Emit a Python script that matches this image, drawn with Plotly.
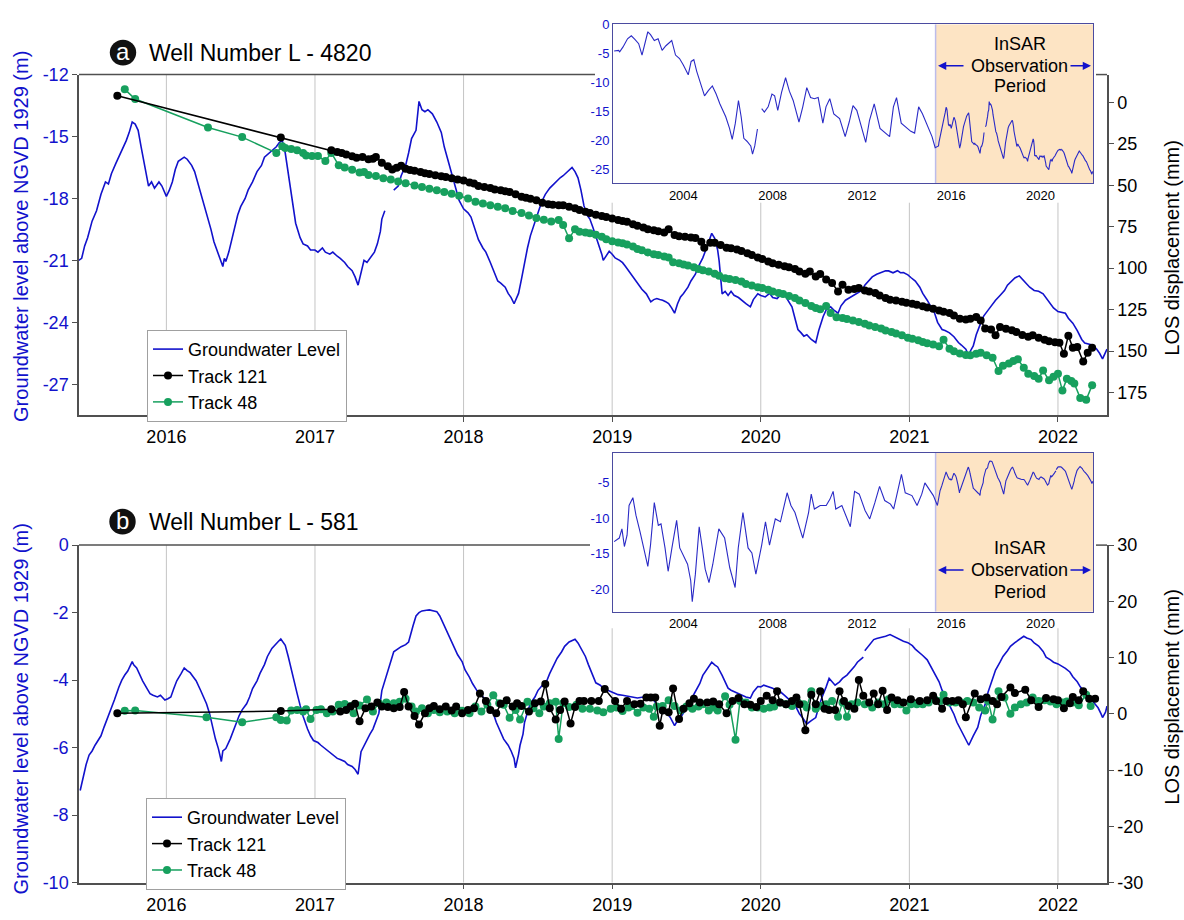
import plotly.graph_objects as go

FONT = "Liberation Sans, Arial, Helvetica, sans-serif"
W, H = 1184, 920

BLUE = "#1212CC"
INSET_BLUE = "#2A2AC6"
GREEN = "#17A05E"
BLACK = "#000000"
AXIS = "#505050"
GRID = "#C4C4C4"
INSET_FRAME = "#4B4BA0"
SHADE = "#FDE4C4"

# ---------------- tick values ----------------
YEAR_TICKS = [2016, 2017, 2018, 2019, 2020, 2021, 2022]
INSET_YEAR_TICKS = [2004, 2008, 2012, 2016, 2020]
GW_A_TICKS = [-12, -15, -18, -21, -24, -27]
LOS_A_TICKS = [0, 25, 50, 75, 100, 125, 150, 175]
GW_B_TICKS = [0, -2, -4, -6, -8, -10]
LOS_B_TICKS = [30, 20, 10, 0, -10, -20, -30]
INSET_A_TICKS = [0, -5, -10, -15, -20, -25]
INSET_B_TICKS = [-5, -10, -15, -20]
OBS_START = 2015.3

# ---------------- well L-4820: groundwater level (m) ----------------
GW_A = [
    (2015.41, -21.0), (2015.43, -20.9), (2015.45, -20.3), (2015.47, -19.9), (2015.50, -19.1),
    (2015.53, -18.6), (2015.56, -17.8), (2015.59, -17.2), (2015.61, -17.3), (2015.63, -16.8),
    (2015.66, -16.3), (2015.68, -16.0), (2015.70, -15.7), (2015.73, -15.2), (2015.75, -14.8),
    (2015.77, -14.3), (2015.79, -14.4), (2015.81, -14.7), (2015.83, -15.5), (2015.85, -16.3),
    (2015.88, -17.4), (2015.90, -17.2), (2015.92, -17.5), (2015.95, -17.2), (2015.97, -17.4),
    (2016.00, -17.9), (2016.02, -17.6), (2016.04, -17.2), (2016.06, -16.6), (2016.08, -16.2),
    (2016.10, -16.1), (2016.12, -16.0), (2016.14, -16.1), (2016.17, -16.4), (2016.19, -16.7),
    (2016.21, -17.2), (2016.24, -18.0), (2016.27, -18.8), (2016.30, -19.5), (2016.32, -20.1),
    (2016.34, -20.5), (2016.36, -20.8), (2016.38, -21.3), (2016.39, -20.9), (2016.40, -21.05),
    (2016.42, -20.6), (2016.43, -20.3), (2016.46, -19.5), (2016.48, -18.8), (2016.50, -18.4),
    (2016.53, -18.0), (2016.55, -17.6), (2016.58, -17.2), (2016.61, -16.7), (2016.64, -16.4),
    (2016.66, -16.0), (2016.69, -15.8), (2016.72, -15.6), (2016.74, -15.5), (2016.76, -15.3),
    (2016.78, -15.2), (2016.80, -15.8), (2016.82, -16.8), (2016.84, -17.7), (2016.86, -18.6),
    (2016.87, -19.2), (2016.90, -19.9), (2016.92, -20.2), (2016.95, -20.3), (2016.97, -20.5),
    (2017.00, -20.5), (2017.02, -20.6), (2017.05, -20.4), (2017.07, -20.6), (2017.10, -20.7),
    (2017.12, -20.6), (2017.15, -20.8), (2017.17, -20.9), (2017.20, -21.1), (2017.22, -21.3),
    (2017.25, -21.5), (2017.27, -21.8), (2017.29, -22.2), (2017.31, -21.6), (2017.33, -21.0),
    (2017.35, -21.1), (2017.38, -20.8), (2017.40, -20.6), (2017.42, -20.2), (2017.44, -19.6),
    (2017.45, -19.0), (2017.47, -18.6), (2017.50, None),
    (2017.53, -17.6), (2017.56, -17.4), (2017.58, -16.9), (2017.61, -16.4), (2017.63, -15.8),
    (2017.65, -15.1), (2017.68, -14.7), (2017.69, -14.0), (2017.70, -13.3), (2017.72, -13.7),
    (2017.74, -13.8), (2017.76, -13.7), (2017.79, -13.9), (2017.82, -14.3), (2017.85, -14.8),
    (2017.87, -15.5), (2017.90, -16.3), (2017.92, -16.9), (2017.95, -17.7), (2017.97, -18.1),
    (2018.00, -18.5), (2018.03, -18.7), (2018.05, -18.9), (2018.08, -19.5), (2018.10, -20.0),
    (2018.13, -20.4), (2018.15, -20.6), (2018.18, -21.1), (2018.20, -21.5), (2018.23, -22.0),
    (2018.25, -22.1), (2018.28, -22.3), (2018.30, -22.6), (2018.32, -22.8), (2018.34, -23.1),
    (2018.36, -22.8), (2018.37, -22.6), (2018.39, -21.9), (2018.41, -21.1), (2018.43, -20.4),
    (2018.45, -19.8), (2018.48, -19.1), (2018.51, -18.5), (2018.53, -18.1), (2018.55, -17.8),
    (2018.58, -17.5), (2018.62, -17.2), (2018.65, -17.0), (2018.67, -16.9), (2018.70, -16.7),
    (2018.73, -16.5), (2018.75, -16.7), (2018.77, -17.0), (2018.79, -17.6), (2018.81, -18.35),
    (2018.83, -18.8), (2018.85, -19.0), (2018.87, -19.4), (2018.89, -19.8), (2018.91, -20.3),
    (2018.93, -20.7), (2018.94, -21.0), (2018.96, -20.8), (2018.98, -20.56), (2019.00, -20.7),
    (2019.02, -20.88), (2019.05, -21.0), (2019.07, -21.11), (2019.09, -21.3), (2019.11, -21.51),
    (2019.14, -21.8), (2019.17, -22.14), (2019.20, -22.4), (2019.23, -22.62), (2019.26, -23.01),
    (2019.28, -22.9), (2019.30, -22.85), (2019.32, -22.9), (2019.34, -22.93), (2019.36, -23.0),
    (2019.38, -23.09), (2019.40, -23.3), (2019.42, -23.56), (2019.44, -23.1), (2019.46, -22.77),
    (2019.48, -22.6), (2019.51, -22.3), (2019.53, -22.0), (2019.56, -21.67), (2019.58, -21.3),
    (2019.61, -20.88), (2019.64, -20.3), (2019.67, -19.69), (2019.69, -19.93), (2019.71, -20.5),
    (2019.72, -21.04), (2019.74, -22.62), (2019.76, -22.5), (2019.78, -22.7), (2019.80, -22.5),
    (2019.82, -22.69), (2019.85, -22.8), (2019.87, -22.93), (2019.90, -23.1), (2019.93, -23.25),
    (2019.95, -22.9), (2019.98, -22.62), (2020.00, -22.7), (2020.03, -22.77), (2020.06, -22.6),
    (2020.08, -22.8), (2020.11, -22.85), (2020.13, -22.7), (2020.16, -22.62), (2020.18, -22.9),
    (2020.21, -23.25), (2020.23, -23.8), (2020.25, -24.35), (2020.27, -24.5), (2020.29, -24.67),
    (2020.31, -24.6), (2020.34, -24.83), (2020.37, -24.99), (2020.39, -24.4), (2020.42, -23.72),
    (2020.44, -23.4), (2020.47, -23.25), (2020.49, -23.4), (2020.52, -23.56), (2020.54, -23.2),
    (2020.57, -22.93), (2020.60, -22.8), (2020.63, -22.69), (2020.65, -22.6), (2020.68, -22.46),
    (2020.70, -22.2), (2020.73, -21.98), (2020.75, -21.8), (2020.78, -21.67), (2020.81, -21.6),
    (2020.84, -21.5), (2020.86, -21.51), (2020.89, -21.6), (2020.92, -21.5), (2020.94, -21.6),
    (2020.96, -21.59), (2020.99, -21.7), (2021.01, -21.83), (2021.04, -22.0), (2021.07, -22.3),
    (2021.09, -22.6), (2021.12, -22.93), (2021.14, -23.2), (2021.17, -23.56), (2021.19, -24.0),
    (2021.22, -24.35), (2021.24, -24.4), (2021.27, -24.51), (2021.30, -24.7), (2021.33, -24.98),
    (2021.35, -25.1), (2021.38, -25.3), (2021.40, -25.62), (2021.41, -25.4), (2021.43, -25.14),
    (2021.45, -24.6), (2021.48, -24.04), (2021.50, -23.7), (2021.53, -23.41), (2021.55, -23.2),
    (2021.58, -22.93), (2021.61, -22.7), (2021.64, -22.46), (2021.66, -22.2), (2021.69, -21.98),
    (2021.71, -21.85), (2021.74, -21.75), (2021.76, -21.9), (2021.79, -22.14), (2021.81, -22.3),
    (2021.84, -22.46), (2021.87, -22.5), (2021.90, -22.62), (2021.92, -22.8), (2021.95, -23.09),
    (2021.97, -23.3), (2022.00, -23.48), (2022.02, -23.5), (2022.05, -23.56), (2022.07, -23.8),
    (2022.10, -24.04), (2022.13, -24.4), (2022.16, -24.83), (2022.18, -25.0), (2022.21, -25.06),
    (2022.23, -25.1), (2022.26, -25.3), (2022.28, -25.5), (2022.30, -25.77), (2022.31, -25.6),
    (2022.33, -25.3),
]

# ---------------- well L-4820: InSAR LOS displacement (mm) ----------------
TR121_A = [
    (2015.67, -3.9), (2016.77, 21.2), (2017.11, 28.9), (2017.15, 30.0), (2017.18, 30.5),
    (2017.21, 31.5), (2017.25, 32.6), (2017.28, 33.4), (2017.32, 33.0), (2017.36, 34.4),
    (2017.39, 34.0), (2017.41, 33.0), (2017.45, 36.4), (2017.49, 38.5), (2017.52, 40.5),
    (2017.55, 39.5), (2017.58, 38.3), (2017.61, 40.0), (2017.64, 40.8), (2017.67, 41.3),
    (2017.71, 42.0), (2017.74, 42.8), (2017.77, 43.3), (2017.81, 44.0), (2017.85, 44.6),
    (2017.88, 45.0), (2017.92, 45.8), (2017.96, 46.5), (2018.00, 47.2), (2018.04, 48.3),
    (2018.07, 49.0), (2018.10, 50.5), (2018.14, 51.0), (2018.18, 51.7), (2018.21, 52.5),
    (2018.25, 53.0), (2018.28, 53.6), (2018.31, 54.1), (2018.35, 55.5), (2018.39, 57.0),
    (2018.42, 57.5), (2018.45, 58.2), (2018.49, 59.0), (2018.53, 60.5), (2018.57, 61.5),
    (2018.60, 61.8), (2018.64, 62.0), (2018.67, 62.0), (2018.71, 63.0), (2018.75, 63.9),
    (2018.78, 65.0), (2018.82, 66.0), (2018.85, 66.8), (2018.89, 67.8), (2018.93, 68.5),
    (2018.96, 69.2), (2019.00, 70.1), (2019.04, 71.0), (2019.07, 71.5), (2019.10, 72.0),
    (2019.14, 73.5), (2019.17, 74.4), (2019.21, 75.5), (2019.24, 76.5), (2019.28, 77.2),
    (2019.31, 77.8), (2019.35, 78.5), (2019.38, 76.5), (2019.42, 80.0), (2019.45, 80.8),
    (2019.49, 81.0), (2019.53, 81.5), (2019.56, 81.8), (2019.60, 84.0), (2019.62, 87.7),
    (2019.66, 84.7), (2019.69, 84.7), (2019.73, 86.0), (2019.77, 87.7), (2019.80, 88.0),
    (2019.84, 88.8), (2019.87, 89.6), (2019.91, 91.0), (2019.94, 92.0), (2019.98, 93.5),
    (2020.01, 94.5), (2020.05, 96.0), (2020.08, 97.0), (2020.12, 98.0), (2020.16, 98.8),
    (2020.19, 99.5), (2020.23, 100.5), (2020.26, 102.0), (2020.30, 103.3), (2020.33, 102.0),
    (2020.37, 105.0), (2020.40, 103.5), (2020.44, 106.8), (2020.48, 109.0), (2020.52, 114.0),
    (2020.55, 110.0), (2020.59, 113.0), (2020.63, 112.5), (2020.66, 112.0), (2020.70, 113.5),
    (2020.73, 114.0), (2020.77, 115.0), (2020.80, 116.5), (2020.84, 118.0), (2020.87, 119.0),
    (2020.91, 119.5), (2020.95, 120.3), (2020.98, 120.8), (2021.02, 121.5), (2021.05, 122.0),
    (2021.09, 123.0), (2021.12, 123.7), (2021.16, 124.5), (2021.20, 125.5), (2021.23, 126.2),
    (2021.27, 127.0), (2021.30, 128.5), (2021.34, 130.5), (2021.38, 131.0), (2021.41, 130.5),
    (2021.45, 129.5), (2021.48, 131.5), (2021.51, 136.4), (2021.55, 137.0), (2021.58, 140.5),
    (2021.61, 135.4), (2021.65, 136.5), (2021.69, 137.4), (2021.72, 138.5), (2021.76, 140.3),
    (2021.80, 141.3), (2021.83, 140.5), (2021.87, 142.0), (2021.91, 143.2), (2021.94, 144.0),
    (2021.98, 144.6), (2022.01, 145.0), (2022.04, 151.6), (2022.07, 140.7), (2022.10, 148.0),
    (2022.13, 147.5), (2022.17, 156.3), (2022.20, 151.0), (2022.23, 148.0),
]

TR48_A = [
    (2015.72, -7.8), (2015.79, -1.95), (2016.28, 15.2), (2016.51, 21.0), (2016.74, 30.5),
    (2016.78, 26.5), (2016.80, 27.5), (2016.84, 28.1), (2016.88, 28.9), (2016.92, 30.5),
    (2016.94, 32.1), (2016.98, 32.4), (2017.02, 32.4), (2017.07, 35.4), (2017.11, 30.5),
    (2017.16, 38.0), (2017.20, 39.3), (2017.25, 40.7), (2017.30, 42.3), (2017.33, 42.0),
    (2017.36, 43.8), (2017.41, 44.5), (2017.46, 45.8), (2017.51, 46.6), (2017.56, 47.8),
    (2017.61, 48.8), (2017.67, 50.1), (2017.72, 51.1), (2017.77, 52.1), (2017.82, 53.1),
    (2017.87, 54.1), (2017.92, 55.1), (2017.97, 56.4), (2018.03, 58.0), (2018.08, 60.0),
    (2018.13, 61.0), (2018.18, 62.0), (2018.23, 63.0), (2018.28, 63.9), (2018.33, 65.5),
    (2018.39, 66.8), (2018.44, 68.2), (2018.49, 69.8), (2018.54, 70.8), (2018.59, 71.8),
    (2018.64, 71.0), (2018.67, 74.0), (2018.71, 82.0), (2018.75, 76.5), (2018.78, 78.0),
    (2018.82, 78.5), (2018.85, 79.0), (2018.89, 79.9), (2018.93, 81.0), (2018.96, 82.5),
    (2019.00, 83.8), (2019.04, 84.5), (2019.07, 85.0), (2019.10, 85.7), (2019.14, 87.0),
    (2019.17, 88.5), (2019.20, 89.2), (2019.24, 90.5), (2019.28, 91.6), (2019.31, 92.0),
    (2019.35, 93.0), (2019.38, 93.5), (2019.41, 96.4), (2019.45, 97.0), (2019.48, 97.8),
    (2019.51, 98.4), (2019.55, 99.5), (2019.58, 100.5), (2019.61, 101.3), (2019.65, 102.0),
    (2019.69, 103.3), (2019.72, 104.5), (2019.76, 106.0), (2019.79, 106.5), (2019.83, 107.2),
    (2019.87, 108.1), (2019.90, 109.5), (2019.94, 110.5), (2019.98, 111.5), (2020.01, 112.0),
    (2020.05, 113.0), (2020.08, 114.0), (2020.12, 115.0), (2020.15, 115.5), (2020.19, 116.8),
    (2020.23, 117.9), (2020.26, 119.5), (2020.30, 121.0), (2020.34, 122.8), (2020.37, 124.0),
    (2020.40, 124.7), (2020.44, 122.8), (2020.47, 127.0), (2020.51, 129.6), (2020.55, 130.0),
    (2020.58, 130.6), (2020.62, 131.5), (2020.66, 132.5), (2020.70, 133.5), (2020.73, 134.5),
    (2020.77, 135.5), (2020.81, 136.4), (2020.84, 137.5), (2020.88, 138.5), (2020.91, 139.3),
    (2020.95, 140.5), (2020.99, 142.0), (2021.02, 142.5), (2021.06, 143.5), (2021.09, 144.5),
    (2021.12, 145.2), (2021.16, 146.0), (2021.20, 147.1), (2021.23, 143.2), (2021.27, 148.5),
    (2021.30, 150.0), (2021.34, 151.5), (2021.38, 152.4), (2021.41, 152.5), (2021.45, 151.6),
    (2021.48, 151.0), (2021.52, 152.5), (2021.56, 154.0), (2021.60, 162.0), (2021.63, 158.8),
    (2021.67, 157.5), (2021.70, 156.0), (2021.73, 154.9), (2021.77, 160.0), (2021.80, 163.7),
    (2021.84, 165.0), (2021.87, 166.6), (2021.90, 161.7), (2021.94, 167.6), (2021.97, 165.5),
    (2022.00, 163.7), (2022.03, 173.8), (2022.06, 166.6), (2022.09, 168.0), (2022.11, 169.5),
    (2022.15, 178.3), (2022.19, 179.3), (2022.23, 170.5),
]

# ---------------- well L-4820: long record before the InSAR period (m) ----------------
GW_A_LONG = [
    (2000.90, -4.6), (2001.10, -4.5), (2001.15, -4.75), (2001.30, -3.9), (2001.50, -2.5),
    (2001.67, -2.0), (2001.83, -2.6), (2002.00, -3.35), (2002.15, -5.3), (2002.27, -3.6),
    (2002.41, -1.3), (2002.53, -1.8), (2002.70, -2.8), (2002.87, -2.5), (2003.05, -4.5),
    (2003.22, -3.7), (2003.48, -2.8), (2003.65, -5.3), (2003.83, -5.9), (2004.00, -7.0),
    (2004.22, -8.7), (2004.35, -6.4), (2004.47, -6.1), (2004.60, -8.1), (2004.78, -10.1),
    (2004.95, -12.3), (2005.12, -11.4), (2005.30, -10.6), (2005.47, -12.0), (2005.64, -13.7),
    (2005.90, -15.9), (2006.07, -17.9), (2006.19, -19.8), (2006.33, -17.0), (2006.47, -13.1),
    (2006.59, -15.9), (2006.71, -19.6), (2006.85, -20.1), (2007.02, -20.9), (2007.10, -22.3),
    (2007.20, -20.9), (2007.32, -18.0), (2007.42, None),
    (2007.51, -14.5), (2007.63, -15.1), (2007.80, -14.2), (2007.97, -12.0), (2008.09, -12.3),
    (2008.23, -14.8), (2008.40, -11.7), (2008.58, -9.2), (2008.75, -11.5), (2008.92, -13.1),
    (2009.18, -16.8), (2009.35, -14.2), (2009.53, -10.9), (2009.70, -12.6), (2009.87, -12.8),
    (2010.04, -12.6), (2010.25, -17.0), (2010.39, -14.2), (2010.56, -12.8), (2010.74, -15.4),
    (2011.00, -16.2), (2011.25, -19.3), (2011.43, -16.8), (2011.60, -14.0), (2011.77, -14.8),
    (2012.03, -18.2), (2012.17, -20.3), (2012.34, -16.5), (2012.55, -13.7), (2012.81, -17.9),
    (2013.07, -18.7), (2013.24, -19.3), (2013.41, -14.2), (2013.55, -12.6), (2013.76, -17.0),
    (2014.02, -17.9), (2014.19, -18.4), (2014.36, -18.7), (2014.54, -14.2), (2014.71, -15.4),
    (2014.97, -17.6), (2015.14, -19.3), (2015.28, -21.2),
]

# ---------------- well L-581: groundwater level (m) ----------------
GW_B = [
    (2015.42, -7.27), (2015.44, -6.89), (2015.46, -6.5), (2015.48, -6.22), (2015.50, -6.1),
    (2015.52, -5.93), (2015.54, -5.8), (2015.56, -5.65), (2015.58, -5.4), (2015.61, -5.07),
    (2015.63, -4.85), (2015.65, -4.59), (2015.68, -4.21), (2015.70, -4.0), (2015.72, -3.85),
    (2015.74, -3.73), (2015.77, -3.45), (2015.78, -3.55), (2015.80, -3.64), (2015.82, -3.85),
    (2015.84, -4.02), (2015.87, -4.25), (2015.89, -4.4), (2015.91, -4.45), (2015.94, -4.5),
    (2015.96, -4.45), (2015.99, -4.59), (2016.01, -4.55), (2016.03, -4.5), (2016.05, -4.25),
    (2016.07, -4.02), (2016.10, -3.8), (2016.12, -3.64), (2016.14, -3.72), (2016.16, -3.78),
    (2016.18, -3.9), (2016.20, -4.02), (2016.23, -4.3), (2016.25, -4.5), (2016.27, -4.7),
    (2016.29, -4.98), (2016.31, -5.4), (2016.33, -5.74), (2016.35, -6.03), (2016.37, -6.41),
    (2016.38, -6.1), (2016.40, -6.03), (2016.43, -5.74), (2016.45, -5.5), (2016.47, -5.26),
    (2016.49, -5.05), (2016.51, -4.88), (2016.54, -4.7), (2016.56, -4.5), (2016.58, -4.25),
    (2016.61, -4.02), (2016.63, -3.8), (2016.66, -3.54), (2016.68, -3.3), (2016.71, -3.06),
    (2016.73, -2.95), (2016.75, -2.87), (2016.77, -2.78), (2016.80, -2.97), (2016.82, -3.3),
    (2016.84, -3.64), (2016.86, -4.0), (2016.88, -4.4), (2016.90, -4.75), (2016.92, -5.07),
    (2016.95, -5.45), (2016.97, -5.65), (2016.99, -5.79), (2017.02, -5.85), (2017.04, -5.93),
    (2017.06, -6.0), (2017.09, -6.12), (2017.12, -6.2), (2017.15, -6.32), (2017.17, -6.35),
    (2017.20, -6.41), (2017.22, -6.5), (2017.25, -6.56), (2017.27, -6.65), (2017.29, -6.79),
    (2017.31, -6.12), (2017.33, -5.95), (2017.35, -5.74), (2017.37, -5.6), (2017.39, -5.45),
    (2017.41, -5.2), (2017.43, -4.98), (2017.45, -4.31), (2017.47, -4.0), (2017.49, -3.73),
    (2017.51, -3.45), (2017.53, -3.16), (2017.55, -3.1), (2017.58, -3.01), (2017.61, -2.95),
    (2017.63, -2.87), (2017.66, -2.39), (2017.68, -2.1), (2017.70, -2.0), (2017.72, -1.95),
    (2017.75, -1.93), (2017.77, -1.92), (2017.80, -1.95), (2017.82, -1.97), (2017.84, -2.1),
    (2017.86, -2.3), (2017.89, -2.58), (2017.91, -2.8), (2017.94, -3.06), (2017.96, -3.25),
    (2017.99, -3.45), (2018.01, -3.7), (2018.04, -3.92), (2018.06, -4.1), (2018.09, -4.31),
    (2018.12, -4.45), (2018.15, -4.59), (2018.17, -4.8), (2018.20, -4.98), (2018.22, -5.25),
    (2018.25, -5.55), (2018.27, -5.75), (2018.30, -5.93), (2018.32, -6.1), (2018.34, -6.32),
    (2018.35, -6.6), (2018.37, -6.2), (2018.38, -5.93), (2018.40, -5.6), (2018.41, -5.26),
    (2018.43, -4.95), (2018.45, -4.69), (2018.48, -4.5), (2018.50, -4.31), (2018.53, -4.15),
    (2018.56, -4.02), (2018.58, -3.8), (2018.61, -3.54), (2018.63, -3.35), (2018.66, -3.16),
    (2018.68, -3.0), (2018.71, -2.87), (2018.75, -2.79), (2018.77, -2.9), (2018.79, -3.06),
    (2018.82, -3.3), (2018.84, -3.54), (2018.87, -3.85), (2018.89, -4.08), (2018.92, -4.15),
    (2018.94, -4.24), (2018.97, -4.3), (2018.99, -4.34), (2019.02, -4.4), (2019.04, -4.43),
    (2019.07, -4.45), (2019.10, -4.48), (2019.13, -4.5), (2019.17, -4.53), (2019.21, -4.5),
    (2019.25, -4.53), (2019.28, -4.6), (2019.30, -4.72), (2019.33, -4.8), (2019.36, -4.92),
    (2019.39, -5.1), (2019.42, -5.35), (2019.44, -5.2), (2019.46, -5.11), (2019.49, -4.9),
    (2019.51, -4.72), (2019.54, -4.5), (2019.56, -4.34), (2019.59, -4.1), (2019.61, -3.86),
    (2019.64, -3.65), (2019.67, -3.47), (2019.69, -3.55), (2019.71, -3.61), (2019.74, -3.86),
    (2019.76, -4.05), (2019.78, -4.24), (2019.80, -4.3), (2019.82, -4.34), (2019.85, -4.4),
    (2019.87, -4.43), (2019.90, -4.5), (2019.93, -4.53), (2019.95, -4.35), (2019.98, -4.19),
    (2020.00, -4.2), (2020.02, -4.15), (2020.05, -4.2), (2020.08, -4.24), (2020.10, -4.3),
    (2020.13, -4.34), (2020.16, -4.45), (2020.18, -4.53), (2020.21, -4.65), (2020.24, -4.82),
    (2020.26, -5.0), (2020.28, -5.11), (2020.31, -5.3), (2020.34, -5.2), (2020.37, -5.11),
    (2020.39, -4.8), (2020.41, -4.53), (2020.44, -4.2), (2020.46, -3.95), (2020.48, -4.05),
    (2020.50, -4.15), (2020.53, -4.05), (2020.55, -3.95), (2020.58, -3.85), (2020.60, -3.76),
    (2020.63, -3.6), (2020.65, -3.47), (2020.67, -3.4), (2020.69, -3.32), (2020.695, None),
    (2020.70, -3.13), (2020.73, -2.95), (2020.76, -2.8), (2020.78, -2.77), (2020.81, -2.74),
    (2020.84, -2.7), (2020.87, -2.65), (2020.90, -2.72), (2020.94, -2.8), (2020.96, -2.85),
    (2020.99, -2.89), (2021.02, -2.98), (2021.04, -3.08), (2021.07, -3.18), (2021.09, -3.27),
    (2021.12, -3.4), (2021.14, -3.57), (2021.17, -3.8), (2021.20, -4.05), (2021.22, -4.3),
    (2021.25, -4.53), (2021.27, -4.75), (2021.30, -5.01), (2021.32, -5.25), (2021.35, -5.5),
    (2021.37, -5.7), (2021.40, -5.93), (2021.43, -5.65), (2021.46, -5.4), (2021.48, -5.05),
    (2021.51, -4.72), (2021.53, -4.35), (2021.56, -3.95), (2021.58, -3.7), (2021.61, -3.47),
    (2021.63, -3.3), (2021.66, -3.13), (2021.68, -3.0), (2021.71, -2.89), (2021.74, -2.8),
    (2021.77, -2.7), (2021.79, -2.75), (2021.82, -2.8), (2021.84, -2.9), (2021.87, -2.99),
    (2021.90, -3.15), (2021.92, -3.32), (2021.95, -3.4), (2021.97, -3.47), (2022.00, -3.52),
    (2022.02, -3.57), (2022.05, -3.65), (2022.08, -3.76), (2022.10, -3.9), (2022.13, -4.05),
    (2022.15, -4.2), (2022.18, -4.34), (2022.20, -4.45), (2022.23, -4.58), (2022.25, -4.7),
    (2022.27, -4.82), (2022.29, -5.0), (2022.30, -5.11), (2022.32, -4.95), (2022.33, -4.77),
]

# ---------------- well L-581: InSAR LOS displacement (mm) ----------------
TR121_B = [
    (2015.67, 0.1), (2016.77, 0.5), (2017.11, 0.8), (2017.17, 0.4), (2017.21, 0.7),
    (2017.24, 1.3), (2017.27, 1.8), (2017.30, -1.3), (2017.34, 1.0), (2017.38, 1.3),
    (2017.42, 2.0), (2017.45, 1.3), (2017.49, 1.2), (2017.53, 1.0), (2017.57, 1.2),
    (2017.60, 3.9), (2017.63, 1.3), (2017.67, -0.4), (2017.70, -1.9), (2017.74, 0.1),
    (2017.77, 1.0), (2017.80, 1.4), (2017.84, 0.8), (2017.88, 1.3), (2017.92, 0.6),
    (2017.95, 1.3), (2017.99, 0.1), (2018.03, 0.7), (2018.07, 1.0), (2018.11, 3.6),
    (2018.15, 2.3), (2018.18, 0.7), (2018.22, 0.1), (2018.25, 1.8), (2018.29, 2.4),
    (2018.33, 1.3), (2018.36, 1.9), (2018.39, 1.4), (2018.44, 0.4), (2018.48, 1.9),
    (2018.52, 2.2), (2018.55, 5.3), (2018.58, 1.0), (2018.62, -1.0), (2018.65, 0.7),
    (2018.68, 2.2), (2018.72, -1.7), (2018.75, 1.2), (2018.78, 2.3), (2018.81, 2.3),
    (2018.86, 2.3), (2018.91, 2.3), (2018.95, 4.4), (2019.02, 2.3), (2019.06, 0.9),
    (2019.10, 2.3), (2019.15, 1.7), (2019.19, 1.8), (2019.23, 2.9), (2019.26, 2.9),
    (2019.29, 2.9), (2019.32, -2.1), (2019.34, 0.6), (2019.38, 0.3), (2019.41, 4.5),
    (2019.45, -0.9), (2019.48, 0.9), (2019.52, 1.9), (2019.55, 2.7), (2019.59, 2.0),
    (2019.64, 2.0), (2019.68, 2.2), (2019.72, 1.7), (2019.77, 0.1), (2019.81, 2.3),
    (2019.85, 2.8), (2019.89, 1.7), (2019.93, 1.6), (2019.97, 1.2), (2020.00, 2.3),
    (2020.04, 3.2), (2020.08, 2.4), (2020.11, 4.0), (2020.13, 2.0), (2020.17, 1.7),
    (2020.21, 2.3), (2020.24, 2.9), (2020.26, 1.7), (2020.30, -2.9), (2020.34, 3.4),
    (2020.37, 1.7), (2020.40, 4.0), (2020.43, 0.9), (2020.46, 0.7), (2020.50, 0.7),
    (2020.53, 4.0), (2020.56, 2.3), (2020.59, 1.4), (2020.63, 0.9), (2020.66, 6.0),
    (2020.69, 3.2), (2020.73, 2.0), (2020.76, 3.6), (2020.79, 1.7), (2020.82, 4.1),
    (2020.85, 0.7), (2020.88, 2.9), (2020.92, 2.4), (2020.96, 2.0), (2021.01, 2.6),
    (2021.07, 2.3), (2021.12, 2.4), (2021.16, 3.2), (2021.18, 2.3), (2021.22, 0.9),
    (2021.25, 2.3), (2021.29, 2.3), (2021.33, 2.4), (2021.36, 1.7), (2021.38, -0.6),
    (2021.44, 3.6), (2021.48, 2.6), (2021.52, 2.9), (2021.56, 2.3), (2021.59, 1.7),
    (2021.62, 3.0), (2021.68, 4.7), (2021.71, 3.7), (2021.78, 4.3), (2021.82, 2.4),
    (2021.87, 1.2), (2021.92, 2.8), (2021.97, 2.6), (2022.00, 2.4), (2022.04, 1.0),
    (2022.08, 1.9), (2022.10, 3.0), (2022.14, 2.4), (2022.17, 4.0), (2022.21, 2.7),
    (2022.25, 2.7),
]

TR48_B = [
    (2015.72, 0.55), (2015.79, 0.6), (2016.27, -0.6), (2016.51, -1.5), (2016.74, -0.6),
    (2016.77, -1.1), (2016.81, -1.2), (2016.84, 0.6), (2016.88, 0.7), (2016.92, 0.4),
    (2016.94, 0.8), (2016.97, -0.9), (2017.01, 0.7), (2017.04, 0.8), (2017.08, 0.1),
    (2017.12, 0.4), (2017.16, 1.6), (2017.20, 1.75), (2017.24, 1.4), (2017.26, 0.1),
    (2017.30, 1.5), (2017.35, 2.55), (2017.39, 0.4), (2017.43, 1.9), (2017.48, 2.0),
    (2017.53, 1.9), (2017.57, 2.15), (2017.61, 2.7), (2017.65, 1.3), (2017.68, 0.4),
    (2017.72, 1.0), (2017.76, 0.1), (2017.80, 0.7), (2017.84, 0.3), (2017.89, 0.4),
    (2017.94, 0.1), (2017.99, 0.55), (2018.04, 0.1), (2018.08, 1.3), (2018.12, 0.4),
    (2018.16, 1.6), (2018.20, 3.3), (2018.24, 1.9), (2018.27, 1.6), (2018.31, -0.7),
    (2018.35, 0.7), (2018.38, -1.0), (2018.43, 2.15), (2018.47, 1.0), (2018.51, 0.1),
    (2018.54, 1.3), (2018.58, 1.9), (2018.62, 2.15), (2018.64, -4.45), (2018.67, 1.9),
    (2018.71, 1.2), (2018.76, 1.6), (2018.80, 0.9), (2018.85, 0.9), (2018.90, 0.6),
    (2018.94, 0.3), (2018.99, 0.9), (2019.03, 1.15), (2019.07, 0.5), (2019.11, 1.15),
    (2019.13, 1.4), (2019.17, 0.2), (2019.21, 1.15), (2019.25, 0.9), (2019.28, -0.5),
    (2019.30, 1.3), (2019.34, 1.4), (2019.38, 2.4), (2019.42, 1.4), (2019.46, 0.6),
    (2019.50, 1.3), (2019.54, 0.9), (2019.58, 1.3), (2019.61, 1.7), (2019.65, 0.6),
    (2019.68, 1.15), (2019.71, 0.6), (2019.76, 3.15), (2019.79, 1.6), (2019.83, -4.6),
    (2019.86, 2.3), (2019.90, 2.0), (2019.94, 1.15), (2019.98, 1.15), (2020.02, 0.9),
    (2020.06, 1.15), (2020.09, 1.3), (2020.13, 2.0), (2020.17, 1.7), (2020.21, 1.4),
    (2020.25, 2.0), (2020.29, 1.7), (2020.31, 1.15), (2020.34, 4.0), (2020.37, 0.9),
    (2020.41, 1.4), (2020.44, 1.7), (2020.48, 2.3), (2020.52, -0.5), (2020.55, 2.0),
    (2020.58, -0.5), (2020.61, 1.7), (2020.65, 2.0), (2020.70, 1.7), (2020.75, 1.15),
    (2020.79, 2.0), (2020.83, 1.7), (2020.86, 2.6), (2020.90, 1.7), (2020.94, 1.7),
    (2020.98, 0.6), (2021.01, 1.7), (2021.05, 1.7), (2021.09, 1.7), (2021.13, 2.0),
    (2021.17, 2.6), (2021.21, 2.3), (2021.23, 3.4), (2021.27, 2.0), (2021.31, 2.0),
    (2021.35, 2.0), (2021.39, 2.3), (2021.43, 2.0), (2021.47, 1.15), (2021.51, 0.6),
    (2021.53, 2.3), (2021.56, -1.0), (2021.60, 4.0), (2021.64, 2.9), (2021.68, 0.0),
    (2021.71, 1.15), (2021.75, 1.7), (2021.79, 2.0), (2021.83, 2.9), (2021.87, 2.3),
    (2021.91, 2.4), (2021.95, 2.2), (2021.99, 1.7), (2022.03, 2.0), (2022.06, 2.2),
    (2022.10, 2.0), (2022.14, 1.55), (2022.19, 3.4), (2022.22, 1.4),
]

# ---------------- well L-581: long record before the InSAR period (m) ----------------
GW_B_LONG = [
    (2000.90, -13.3), (2001.13, -12.8), (2001.25, -11.5), (2001.36, -14.0), (2001.48, -12.4),
    (2001.57, -8.2), (2001.74, -7.1), (2001.88, -9.6), (2002.06, -11.9), (2002.23, -14.2),
    (2002.41, -16.8), (2002.53, -13.8), (2002.70, -7.8), (2002.88, -11.0), (2003.00, -10.8),
    (2003.18, -14.2), (2003.32, -17.5), (2003.49, -14.2), (2003.70, -10.3), (2003.84, -14.2),
    (2004.05, -15.6), (2004.19, -16.5), (2004.33, -18.8), (2004.40, -21.8), (2004.54, -17.9),
    (2004.71, -11.2), (2004.85, -14.2), (2004.98, -17.2), (2005.15, -19.1), (2005.32, -16.5),
    (2005.59, -11.5), (2005.85, -12.8), (2006.08, -17.0), (2006.32, -19.8), (2006.46, -14.2),
    (2006.67, -9.2), (2006.90, -14.2), (2007.07, -14.9), (2007.25, -17.9), (2007.34, -16.5),
    (2007.51, -13.8), (2007.68, -10.5), (2007.86, -13.8), (2008.12, -10.1), (2008.35, -10.5),
    (2008.65, -6.4), (2008.82, -8.2), (2009.00, -9.2), (2009.17, -11.0), (2009.35, -12.8),
    (2009.61, -9.2), (2009.73, -6.6), (2009.87, -8.7), (2010.13, -8.2), (2010.40, -8.2),
    (2010.57, -7.3), (2010.71, -6.2), (2010.83, -8.7), (2011.10, -8.2), (2011.27, -9.6),
    (2011.48, -11.2), (2011.67, -6.2), (2011.88, -6.6), (2012.14, -8.9), (2012.35, -10.1),
    (2012.58, -7.8), (2012.79, -5.5), (2013.02, -7.5), (2013.28, -8.0), (2013.42, -8.7),
    (2013.59, -6.2), (2013.77, -3.8), (2013.94, -6.4), (2014.24, -6.8), (2014.47, -8.2),
    (2014.68, -6.6), (2014.82, -5.0), (2015.03, -5.9), (2015.20, -6.8), (2015.38, -8.2),
]


def unzip(pairs):
    return [p[0] for p in pairs], [p[1] for p in pairs]


def fx(px):
    return px / W


def fy(py):
    return 1 - py / H


# ---------------- layout geometry ----------------
MAIN_X = [fx(79), fx(1107)]
A_Y = [fy(414), fy(66)]
B_Y = [fy(892), fy(547)]
INSET_X = [fx(613), fx(1093)]
IA_Y = [fy(177), fy(14.5)]
IB_Y = [fy(615), fy(452.7)]

X_RANGE = [2015.412, 2022.33]
GW_A_RANGE = [-28.49, -12]
LOS_A_RANGE = [188.5, -16.7]
GW_B_RANGE = [-10, 0]
LOS_B_RANGE = [-30, 30]
INSET_X_RANGE = [2000.85, 2022.35]
IA_RANGE = [-27.3, 0]
IB_RANGE = [-23.2, -0.76]

fig = go.Figure()

# ----- panel a -----
t, v = unzip(GW_A)
fig.add_trace(go.Scatter(x=t, y=v, mode="lines", name="Groundwater Level",
                         line=dict(color=BLUE, width=1.6), xaxis="x", yaxis="y",
                         legend="legend", legendrank=1))
t, v = unzip(TR48_A)
fig.add_trace(go.Scatter(x=t, y=v, mode="lines+markers", name="Track 48",
                         line=dict(color=GREEN, width=1.5), marker=dict(color=GREEN, size=8),
                         xaxis="x", yaxis="y2", legend="legend", legendrank=3))
t, v = unzip(TR121_A)
fig.add_trace(go.Scatter(x=t, y=v, mode="lines+markers", name="Track 121",
                         line=dict(color=BLACK, width=1.5), marker=dict(color=BLACK, size=8),
                         xaxis="x", yaxis="y2", legend="legend", legendrank=2))

# ----- panel b -----
t, v = unzip(GW_B)
fig.add_trace(go.Scatter(x=t, y=v, mode="lines", name="Groundwater Level",
                         line=dict(color=BLUE, width=1.6), xaxis="x2", yaxis="y3",
                         legend="legend2", legendrank=1))
t, v = unzip(TR48_B)
fig.add_trace(go.Scatter(x=t, y=v, mode="lines+markers", name="Track 48",
                         line=dict(color=GREEN, width=1.5), marker=dict(color=GREEN, size=8),
                         xaxis="x2", yaxis="y4", legend="legend2", legendrank=3))
t, v = unzip(TR121_B)
fig.add_trace(go.Scatter(x=t, y=v, mode="lines+markers", name="Track 121",
                         line=dict(color=BLACK, width=1.5), marker=dict(color=BLACK, size=8),
                         xaxis="x2", yaxis="y4", legend="legend2", legendrank=2))

# ----- insets: full record of each well -----
t, v = unzip(GW_A_LONG + GW_A)
fig.add_trace(go.Scatter(x=t, y=v, mode="lines", line=dict(color=INSET_BLUE, width=1.1),
                         xaxis="x3", yaxis="y5", showlegend=False))
t, v = unzip(GW_B_LONG + GW_B)
fig.add_trace(go.Scatter(x=t, y=v, mode="lines", line=dict(color=INSET_BLUE, width=1.1),
                         xaxis="x4", yaxis="y6", showlegend=False))


def tick_axis(**kw):
    base = dict(showgrid=False, zeroline=False, showline=True, linecolor=AXIS, linewidth=1.5,
                ticks="outside", ticklen=5, tickwidth=1.2, tickcolor=AXIS,
                tickfont=dict(family=FONT, size=18, color=BLACK))
    base.update(kw)
    return base


def inset_axis(**kw):
    base = dict(showgrid=False, zeroline=False, showline=True, mirror=True,
                linecolor=INSET_FRAME, linewidth=1, ticks="",
                tickfont=dict(family=FONT, size=13, color=BLACK))
    base.update(kw)
    return base


year_text = [str(y) for y in YEAR_TICKS]

fig.update_layout(
    width=W, height=H, autosize=False,
    margin=dict(l=0, r=0, t=0, b=0),
    paper_bgcolor="white", plot_bgcolor="#ffffff",
    font=dict(family=FONT, color=BLACK),
    xaxis=tick_axis(domain=MAIN_X, anchor="y", range=X_RANGE,
                    tickvals=YEAR_TICKS, ticktext=year_text),
    yaxis=tick_axis(domain=A_Y, anchor="x", range=GW_A_RANGE,
                    tickvals=GW_A_TICKS, ticktext=[str(v) for v in GW_A_TICKS],
                    tickfont=dict(family=FONT, size=18, color=BLUE)),
    yaxis2=tick_axis(overlaying="y", side="right", anchor="x", range=LOS_A_RANGE,
                     tickvals=LOS_A_TICKS, ticktext=[str(v) for v in LOS_A_TICKS]),
    xaxis2=tick_axis(domain=MAIN_X, anchor="y3", range=X_RANGE,
                     tickvals=YEAR_TICKS, ticktext=year_text),
    yaxis3=tick_axis(domain=B_Y, anchor="x2", range=GW_B_RANGE,
                     tickvals=GW_B_TICKS, ticktext=[str(v) for v in GW_B_TICKS],
                     tickfont=dict(family=FONT, size=18, color=BLUE)),
    yaxis4=tick_axis(overlaying="y3", side="right", anchor="x2", range=LOS_B_RANGE,
                     tickvals=LOS_B_TICKS, ticktext=[str(v) for v in LOS_B_TICKS]),
    xaxis3=inset_axis(domain=INSET_X, anchor="y5", range=INSET_X_RANGE,
                      tickvals=INSET_YEAR_TICKS),
    yaxis5=inset_axis(domain=IA_Y, anchor="x3", range=IA_RANGE,
                      tickvals=INSET_A_TICKS, ticktext=[str(v) for v in INSET_A_TICKS],
                      tickfont=dict(family=FONT, size=13, color=BLUE)),
    xaxis4=inset_axis(domain=INSET_X, anchor="y6", range=INSET_X_RANGE,
                      tickvals=INSET_YEAR_TICKS),
    yaxis6=inset_axis(domain=IB_Y, anchor="x4", range=IB_RANGE,
                      tickvals=INSET_B_TICKS, ticktext=[str(v) for v in INSET_B_TICKS],
                      tickfont=dict(family=FONT, size=13, color=BLUE)),
    legend=dict(x=fx(147), y=fy(327), xanchor="left", yanchor="top",
                bgcolor="white", bordercolor="#A0A0A0", borderwidth=1,
                font=dict(family=FONT, size=18, color=BLACK), itemwidth=30,
                tracegroupgap=0, traceorder="normal"),
    legend2=dict(x=fx(146), y=fy(805.5), xanchor="left", yanchor="top",
                 bgcolor="white", bordercolor="#A0A0A0", borderwidth=1,
                 font=dict(family=FONT, size=18, color=BLACK), itemwidth=30,
                 tracegroupgap=0, traceorder="normal"),
)

shapes = []
# vertical year gridlines (stop below the inset blocks)
for yr in YEAR_TICKS:
    top_a = A_Y[1] if yr < 2019 else fy(197)
    top_b = B_Y[1] if yr < 2019 else fy(632)
    shapes.append(dict(type="line", xref="x", yref="paper", x0=yr, x1=yr, y0=A_Y[0], y1=top_a,
                       line=dict(color=GRID, width=1), layer="below"))
    shapes.append(dict(type="line", xref="x2", yref="paper", x0=yr, x1=yr, y0=B_Y[0], y1=top_b,
                       line=dict(color=GRID, width=1), layer="below"))

# top frame of each panel, interrupted by the inset block
for py, x_break in ((66, 595), (547, 590)):
    for xa, xb in ((79, x_break), (1096, 1107)):
        shapes.append(dict(type="line", xref="paper", yref="paper", x0=fx(xa), x1=fx(xb),
                           y0=fy(py), y1=fy(py), line=dict(color=AXIS, width=1.5), layer="above"))

# InSAR observation period shading in the insets
for xr, yr_, rng in (("x3", "y5", IA_RANGE), ("x4", "y6", IB_RANGE)):
    shapes.append(dict(type="rect", xref=xr, yref=yr_, x0=OBS_START, x1=INSET_X_RANGE[1],
                       y0=rng[0], y1=rng[1], fillcolor=SHADE, line=dict(width=0), layer="below"))
    shapes.append(dict(type="line", xref=xr, yref=yr_, x0=OBS_START, x1=OBS_START,
                       y0=rng[0], y1=rng[1], line=dict(color="#BCBCEB", width=1.5), layer="below"))

# panel letter badges
for cx, cy in ((123, 43.5), (122.5, 523)):
    r = 13.2
    shapes.append(dict(type="circle", xref="paper", yref="paper",
                       x0=fx(cx - r), x1=fx(cx + r), y0=fy(cy + r), y1=fy(cy - r),
                       fillcolor="#111111", line=dict(width=0), layer="above"))

fig.update_layout(shapes=shapes)

ann = []
for letter, cy, title in (("a", 43.5, "Well Number L - 4820"), ("b", 523, "Well Number L - 581")):
    cx = 123 if letter == "a" else 122.5
    ann.append(dict(x=fx(cx), y=fy(cy), xref="paper", yref="paper", text=letter,
                    showarrow=False, xanchor="center", yanchor="middle", yshift=1,
                    font=dict(family=FONT, size=24, color="white")))
    ann.append(dict(x=fx(147), y=fy(cy), xref="paper", yref="paper", text=title,
                    showarrow=False, xanchor="left", yanchor="middle",
                    font=dict(family=FONT, size=23, color=BLACK)))

# axis titles
for cy in (232, 715):
    ann.append(dict(x=fx(21), y=fy(cy), xref="paper", yref="paper",
                    text="Groundwater level above NGVD 1929 (m)", textangle=-90,
                    showarrow=False, xanchor="center", yanchor="middle",
                    font=dict(family=FONT, size=20, color=BLUE)))
for cy in (243, 702):
    ann.append(dict(x=fx(1172), y=fy(cy), xref="paper", yref="paper",
                    text="LOS displacement (mm)", textangle=-90,
                    showarrow=False, xanchor="center", yanchor="middle",
                    font=dict(family=FONT, size=20, color=BLACK)))

# InSAR period labels and arrows
for rows, arrow_y in (((35, 57, 78), 57), ((550, 572.5, 595), 572.5)):
    for py, word in zip(rows, ("InSAR", "Observation", "Period")):
        ann.append(dict(x=fx(1019.5), y=fy(py), xref="paper", yref="paper", text=word,
                        showarrow=False, xanchor="center", yanchor="middle",
                        font=dict(family=FONT, size=18, color=BLACK)))
    ann.append(dict(x=fx(938), y=fy(arrow_y), xref="paper", yref="paper", text="",
                    showarrow=True, ax=27, ay=0, axref="pixel", ayref="pixel",
                    arrowhead=2, arrowsize=1.1, arrowwidth=1.5, arrowcolor=BLUE, standoff=0))
    ann.append(dict(x=fx(1091), y=fy(arrow_y), xref="paper", yref="paper", text="",
                    showarrow=True, ax=-22, ay=0, axref="pixel", ayref="pixel",
                    arrowhead=2, arrowsize=1.1, arrowwidth=1.5, arrowcolor=BLUE, standoff=0))

fig.update_layout(annotations=ann)

fig.write_html("out.html")
